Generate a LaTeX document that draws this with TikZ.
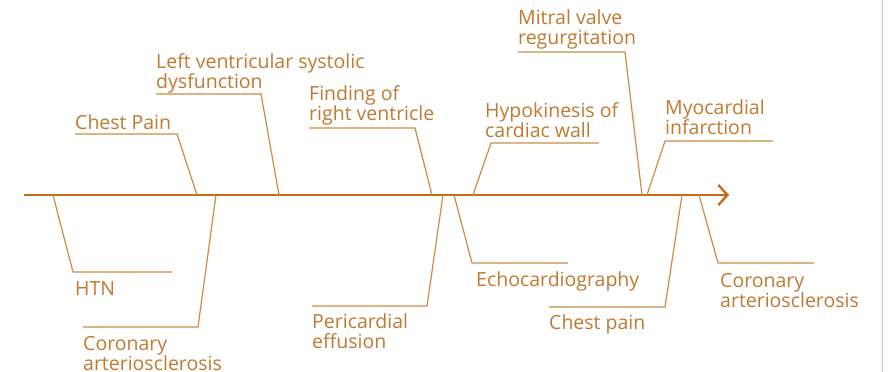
\documentclass[tikz,border=0pt]{standalone}
\usepackage{fontspec}
\setmainfont{Open Sans}
\usetikzlibrary{arrows.meta}
\definecolor{spinec}{RGB}{196,108,22}
\definecolor{branchc}{RGB}{205,140,70}
\definecolor{textc}{RGB}{192,122,48}
\tikzset{
  spine/.style={draw=spinec, line width=2.4pt, -{Straight Barb[length=9pt,width=20pt,line width=2.4pt]}},
  branch/.style={draw=branchc, line width=1.2pt},
  lbl/.style={text=textc, font=\fontsize{19.5}{20}\selectfont, inner sep=0pt, anchor=base west, align=left},
}
\begin{document}
\begin{tikzpicture}[x=1pt,y=-1pt]
\useasboundingbox (0,0) rectangle (895,372);
\fill[white] (0,0) rectangle (895,372);
\draw[gray!45, line width=1pt] (882,0) -- (882,372);
% spine
\coordinate (s0) at (24,195);
\coordinate (s1) at (729,195);
\draw[spine] (s0) -- (s1);
% spine attachment points
\coordinate (a1) at (197,195);
\coordinate (a2) at (279,195);
\coordinate (a3) at (432,195);
\coordinate (a4) at (473,195);
\coordinate (a5) at (642,195);
\coordinate (a6) at (647,195);
\coordinate (b1) at (53,195);
\coordinate (b2) at (216,195);
\coordinate (b3) at (443,195);
\coordinate (b4) at (454,195);
\coordinate (b5) at (682,195);
\coordinate (b6) at (699,195);
% upper labels (anchor = baseline of last line)
\node[lbl] (t1) at (75,129) {Chest Pain};
\node[lbl] (t2) at (156,88) {Left ventricular systolic\\dysfunction};
\node[lbl] (t3) at (309,120) {Finding of\\right ventricle};
\node[lbl] (t4) at (485,137) {Hypokinesis of\\cardiac wall};
\node[lbl] (t5) at (518,44) {Mitral valve\\regurgitation};
\node[lbl] (t6) at (665,134) {Myocardial\\infarction};
% lower labels
\node[lbl] (u1) at (75,295) {HTN};
\node[lbl] (u2) at (83,370) {Coronary\\arteriosclerosis};
\node[lbl] (u3) at (312,348) {Pericardial\\effusion};
\node[lbl] (u4) at (476,286) {Echocardiography};
\node[lbl] (u5) at (549,329) {Chest pain};
\node[lbl] (u6) at (720,307) {Coronary\\arteriosclerosis};
% upper branches
\draw[branch] (75,134) -- (177,134) -- (a1);
\draw[branch] (156,94) -- (261,94) -- (a2);
\draw[branch] (309,128) -- (415,128) -- (a3);
\draw[branch] (599,143) -- (491,143) -- (a4);
\draw[branch] (518,52) -- (625,52) -- (a5);
\draw[branch] (773,141) -- (665,141) -- (a6);
% lower branches
\draw[branch] (b1) -- (73,272) -- (172,272);
\draw[branch] (b2) -- (198,327) -- (83,327);
\draw[branch] (b3) -- (427,306) -- (312,306);
\draw[branch] (b4) -- (472,263) -- (568,263);
\draw[branch] (b5) -- (665,307) -- (549,307);
\draw[branch] (b6) -- (718,263) -- (814,263);
\end{tikzpicture}
\end{document}
